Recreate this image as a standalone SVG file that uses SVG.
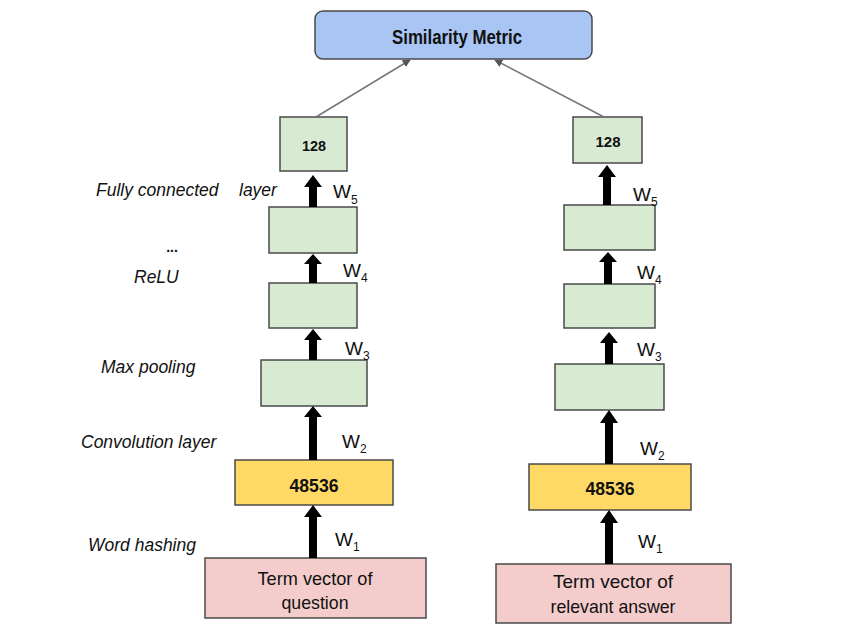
<svg xmlns="http://www.w3.org/2000/svg" width="843" height="643" viewBox="0 0 843 643">
<style>
  text { font-family: "Liberation Sans", Arial, sans-serif; fill: #111; }
  .box { stroke: #4a4a4a; stroke-width: 1.5; }
  .blue { fill: #a9c5f3; }
  .green { fill: #d9ead3; }
  .yellow { fill: #ffd966; }
  .pink { fill: #f4cccc; }
  .num { font-weight: bold; text-anchor: middle; }
  .lbl { font-style: italic; font-size: 17.5px; }
  .w { font-size: 19px; }
  .sub { font-size: 12px; }
  .term { font-size: 18.5px; text-anchor: middle; }
  .thick { fill: #000; }
  .conn { stroke: #777; stroke-width: 1.5; fill: none; marker-end: url(#ah); }
</style>
<defs>
  <marker id="ah" viewBox="0 0 10 10" refX="9" refY="5" markerWidth="8" markerHeight="8" markerUnits="userSpaceOnUse" orient="auto">
    <path d="M0,0 L10,5 L0,10 z" fill="#555"/>
  </marker>
</defs>
<rect width="843" height="643" fill="#fff"/>

<g id="similarity">
  <rect class="box blue" x="315" y="11" width="277" height="48" rx="8"/>
  <text x="457" y="44" font-size="20" font-weight="bold" text-anchor="middle" textLength="130" lengthAdjust="spacingAndGlyphs">Similarity Metric</text>
</g>

<g id="q128"><rect class="box green" x="280" y="117" width="67" height="54"/><text class="num" x="314" y="151" font-size="15" textLength="24" lengthAdjust="spacingAndGlyphs">128</text></g>
<g id="qfc"><rect class="box green" x="269" y="207" width="88" height="46"/></g>
<g id="qrelu"><rect class="box green" x="269" y="283" width="88" height="45"/></g>
<g id="qpool"><rect class="box green" x="261" y="360" width="106" height="46"/></g>
<g id="qhash"><rect class="box yellow" x="235" y="460" width="158" height="45"/><text class="num" x="314" y="492" font-size="18.5" textLength="49" lengthAdjust="spacingAndGlyphs">48536</text></g>
<g id="qterm"><rect class="box pink" x="205" y="558" width="221" height="60"/><text class="term" x="315" y="585" textLength="115" lengthAdjust="spacingAndGlyphs">Term vector of</text><text class="term" x="315" y="609" textLength="67" lengthAdjust="spacingAndGlyphs">question</text></g>

<g id="a128"><rect class="box green" x="573" y="117" width="69" height="46"/><text class="num" x="608" y="147" font-size="15" textLength="25" lengthAdjust="spacingAndGlyphs">128</text></g>
<g id="afc"><rect class="box green" x="564" y="205" width="91" height="45"/></g>
<g id="arelu"><rect class="box green" x="564" y="284" width="91" height="44"/></g>
<g id="apool"><rect class="box green" x="555" y="364" width="109" height="46"/></g>
<g id="ahash"><rect class="box yellow" x="529" y="464" width="162" height="46"/><text class="num" x="610" y="495" font-size="18.5" textLength="49" lengthAdjust="spacingAndGlyphs">48536</text></g>
<g id="aterm"><rect class="box pink" x="496" y="564" width="235" height="59"/><text class="term" x="613" y="588" textLength="120" lengthAdjust="spacingAndGlyphs">Term vector of</text><text class="term" x="613" y="613" textLength="125" lengthAdjust="spacingAndGlyphs">relevant answer</text></g>

<g id="labels">
  <text class="lbl" y="196"><tspan x="96">Fully connected</tspan><tspan x="239">layer</tspan></text>
  <text x="172" y="252" font-size="14" font-weight="bold" text-anchor="middle">...</text>
  <text class="lbl" x="134" y="283">ReLU</text>
  <text class="lbl" x="101" y="373">Max pooling</text>
  <text class="lbl" x="81" y="448">Convolution layer</text>
  <text class="lbl" x="88" y="551">Word hashing</text>
</g>

<g id="weights">
  <text class="w" x="333" y="198">W<tspan class="sub" dy="6">5</tspan></text>
  <text class="w" x="343" y="277">W<tspan class="sub" dy="5">4</tspan></text>
  <text class="w" x="345" y="355">W<tspan class="sub" dy="5">3</tspan></text>
  <text class="w" x="342" y="448">W<tspan class="sub" dy="5">2</tspan></text>
  <text class="w" x="335" y="546">W<tspan class="sub" dy="5">1</tspan></text>
  <text class="w" x="633" y="201">W<tspan class="sub" dy="5">5</tspan></text>
  <text class="w" x="637" y="279">W<tspan class="sub" dy="5">4</tspan></text>
  <text class="w" x="637" y="356">W<tspan class="sub" dy="5">3</tspan></text>
  <text class="w" x="640" y="455">W<tspan class="sub" dy="5">2</tspan></text>
  <text class="w" x="638" y="548">W<tspan class="sub" dy="5">1</tspan></text>
</g>

<g id="connectors">
  <line class="conn" x1="316" y1="117" x2="410" y2="60"/>
  <line class="conn" x1="604" y1="117" x2="495" y2="60"/>
  <polygon class="thick" points="309,207 309,187 304,187 313,175 322,187 317,187 317,207"/>
  <polygon class="thick" points="309,283 309,264 304,264 313,254 322,264 317,264 317,283"/>
  <polygon class="thick" points="309,360 309,340 304,340 313,329 322,340 317,340 317,360"/>
  <polygon class="thick" points="309,460 309,417 304,417 313,406 322,417 317,417 317,460"/>
  <polygon class="thick" points="309,558 309,517 304,517 313,505 322,517 317,517 317,558"/>
  <polygon class="thick" points="603,205 603,177 598,177 607,165 616,177 611,177 611,205"/>
  <polygon class="thick" points="604,284 604,262 599,262 608,252 617,262 612,262 612,284"/>
  <polygon class="thick" points="605,364 605,343 600,343 609,332 618,343 613,343 613,364"/>
  <polygon class="thick" points="605,464 605,423 600,423 609,410 618,423 613,423 613,464"/>
  <polygon class="thick" points="605,564 605,523 600,523 609,510 618,523 613,523 613,564"/>
</g>
</svg>
